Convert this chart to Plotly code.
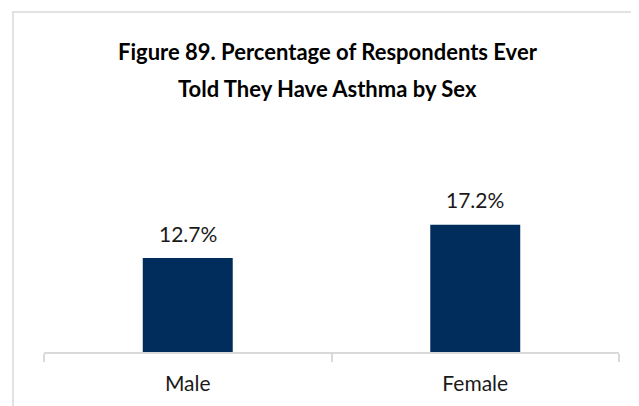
import plotly.graph_objects as go

categories = ["Male", "Female"]
percentages = [12.7, 17.2]
title_lines = [
    "Figure 89. Percentage of Respondents Ever",
    "Told They Have Asthma by Sex",
]

BAR_COLOR = "#002D5B"
GRID_GRAY = "#D9D9D9"
TEXT_COLOR = "#1a1a1a"
FONT = "Lato"
W, H = 639, 406
L, R, T, B = 36, 28, 196, 62

pw, ph = W - L - R, H - T - B


def px_x(x):
    return (x - L) / pw


def px_y(y):
    return (H - B - y) / ph


fig = go.Figure()

fig.add_trace(
    go.Bar(
        x=categories,
        y=percentages,
        marker={"color": BAR_COLOR, "line": {"width": 0}},
        width=0.313,
        hoverinfo="x+y",
    )
)

# data labels above the bars
for cat, val in zip(categories, percentages):
    fig.add_annotation(
        x=cat,
        y=val,
        text=f"{val:.1f}%",
        showarrow=False,
        yanchor="middle",
        yshift=25,
        font={"family": FONT, "size": 21, "color": TEXT_COLOR},
    )

# two-line title
for line, y_px in zip(title_lines, [44, 80]):
    fig.add_annotation(
        xref="paper",
        yref="paper",
        x=px_x(319.5),
        y=px_y(y_px),
        xanchor="center",
        yanchor="middle",
        text=f"<b>{line}</b>",
        showarrow=False,
        font={"family": FONT, "size": 22, "color": "#000000"},
    )

# light frame around the whole chart
fig.add_shape(
    type="rect",
    xref="paper",
    yref="paper",
    x0=px_x(5),
    x1=px_x(634),
    y0=px_y(404),
    y1=px_y(4),
    line={"color": GRID_GRAY, "width": 1.5},
    layer="below",
)

fig.update_layout(
    width=W,
    height=H,
    margin={"l": L, "r": R, "t": T, "b": B},
    paper_bgcolor="white",
    plot_bgcolor="white",
    showlegend=False,
)

fig.update_xaxes(
    showline=True,
    linecolor=GRID_GRAY,
    linewidth=1.5,
    ticks="outside",
    tickson="boundaries",
    ticklen=8,
    tickcolor=GRID_GRAY,
    tickwidth=1.5,
    tickfont={"family": FONT, "size": 21, "color": TEXT_COLOR},
    ticklabelstandoff=12,
    showgrid=False,
)

fig.update_yaxes(
    range=[0, 20],
    visible=False,
    showgrid=False,
)

fig.write_html("out.html")
